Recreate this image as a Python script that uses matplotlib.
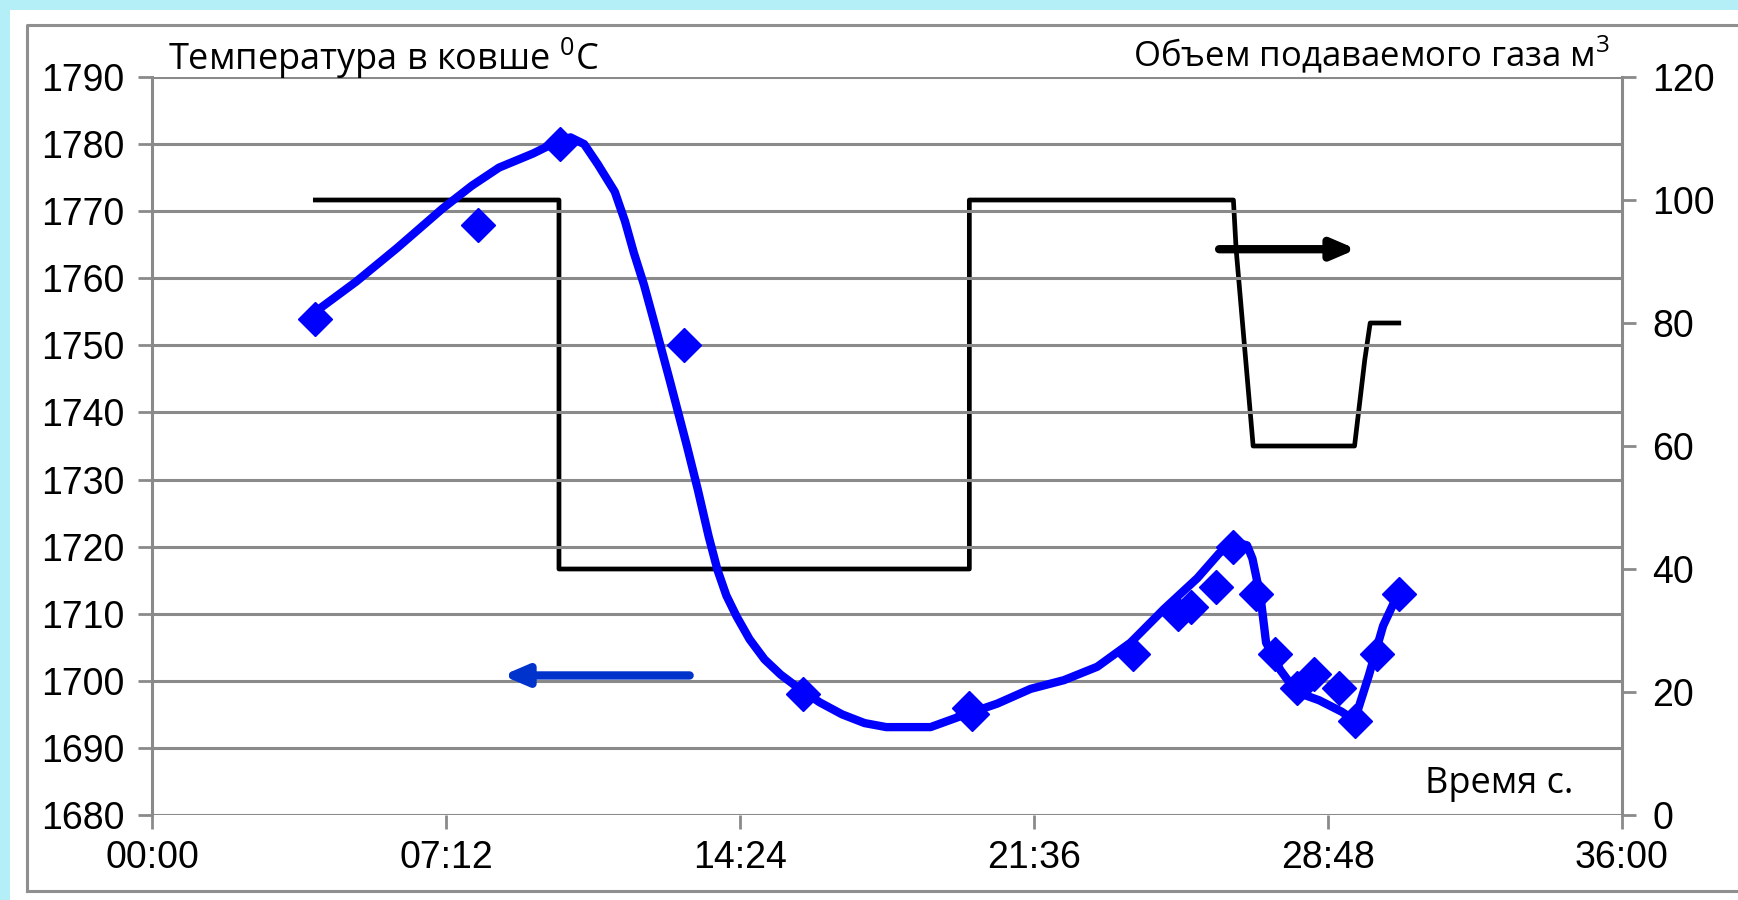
import matplotlib
matplotlib.use("Agg")
import matplotlib.pyplot as plt
from matplotlib.patches import Rectangle
from matplotlib.lines import Line2D

# --- data -------------------------------------------------------------
# ladle temperature, continuous record (time in s, temperature in °C)
curve_t = [240, 300, 360, 427, 470, 510, 560, 598, 615, 635, 655, 680, 695,
           708, 723, 737, 761, 786, 802, 818, 831, 844, 859, 878, 900, 924,
           949, 981, 1014, 1047, 1079, 1144, 1193, 1242, 1291, 1340, 1389,
           1438, 1487, 1536, 1568, 1589, 1609, 1617, 1629, 1637, 1658, 1682,
           1715, 1748, 1767, 1788, 1809, 1832]
curve_v = [1755, 1759.5, 1764.5, 1770.4, 1773.8, 1776.5, 1778.6, 1780.5, 1781,
           1780, 1777, 1772.9, 1768.5, 1763.8, 1759, 1753.8, 1744.7, 1735,
           1728.5, 1721.5, 1716.5, 1712.7, 1709.6, 1706.2, 1703.2, 1700.9,
           1699, 1696.8, 1695, 1693.7, 1693.1, 1693.1, 1694.9, 1696.6, 1698.8,
           1700.1, 1702.1, 1705.7, 1710.7, 1715.3, 1719, 1720.7, 1720.2,
           1718.2, 1712.4, 1705.7, 1701.6, 1698.3, 1697.1, 1695.4, 1694.1,
           1700.8, 1708.2, 1713.2]

# ladle temperature, individual measurements
meas_t = [240, 479, 600, 781, 957, 1201, 1205, 1441, 1508, 1527, 1563, 1589,
          1622, 1650, 1682, 1707, 1744, 1767, 1800, 1832]
meas_v = [1754, 1768, 1780, 1750, 1698, 1696, 1695, 1704, 1710, 1711, 1714,
          1720, 1713, 1704, 1699, 1701, 1699, 1694, 1704, 1713]

# supplied gas volume, m3
gas_t = [240, 598, 598, 1201, 1201, 1589, 1593, 1618, 1767, 1782, 1790, 1832]
gas_v = [100, 100, 40, 40, 100, 100, 92, 60, 60, 74, 80, 80]

x_ticks = [0, 432, 864, 1296, 1728, 2160]
x_labels = ["00:00", "07:12", "14:24", "21:36", "28:48", "36:00"]
left_ticks = list(range(1680, 1791, 10))
right_ticks = list(range(0, 121, 20))

plt.rcParams["mathtext.fontset"] = "custom"
plt.rcParams["mathtext.rm"] = "Open Sans"

# --- figure -----------------------------------------------------------
W, H, DPI = 1738, 900, 100
fig = plt.figure(figsize=(W / DPI, H / DPI), dpi=DPI)
fig.patch.set_facecolor("white")

# light cyan strips on top and left, grey frame around the chart
fig.patches.append(Rectangle((0, 1 - 10 / H), 1, 10 / H, transform=fig.transFigure,
                             facecolor="#b4eef7", edgecolor="none", zorder=0))
fig.patches.append(Rectangle((0, 0), 10 / W, 1, transform=fig.transFigure,
                             facecolor="#b4eef7", edgecolor="none", zorder=0))
fig.add_artist(Line2D([27 / W, 27 / W, 1.0], [1 - 891 / H, 1 - 25 / H, 1 - 25 / H],
                      transform=fig.transFigure, color="#8f8f8f", lw=2.2))
fig.add_artist(Line2D([27 / W, 1.0], [1 - 891 / H, 1 - 891 / H],
                      transform=fig.transFigure, color="#8f8f8f", lw=2.2))

x0, x1 = 152 / W, 1622 / W
y0, y1 = 1 - 815 / H, 1 - 77 / H
ax = fig.add_axes([x0, y0, x1 - x0, y1 - y0])
ax.set_facecolor("none")
ax2 = ax.twinx()

grid_c = "#8a8a8a"
tick_font = dict(family=["Liberation Sans", "DejaVu Sans"], size=27)
note_font = ["Open Sans", "DejaVu Sans"]

ax.set_xlim(0, 2160)
ax.set_ylim(1680, 1790)
ax2.set_ylim(0, 120)

for v in left_ticks:
    ax.axhline(v, color=grid_c, lw=2.2, zorder=1)

for a in (ax, ax2):
    for s in a.spines.values():
        s.set_visible(False)
ax.spines["left"].set_visible(True)
ax.spines["left"].set_color(grid_c)
ax.spines["left"].set_linewidth(2.2)
ax2.spines["right"].set_visible(True)
ax2.spines["right"].set_color(grid_c)
ax2.spines["right"].set_linewidth(2.2)

ax.set_xticks(x_ticks)
ax.set_xticklabels(x_labels, **tick_font)
ax.set_yticks(left_ticks)
ax.set_yticklabels([str(v) for v in left_ticks], **tick_font)
ax2.set_yticks(right_ticks)
ax2.set_yticklabels([str(v) for v in right_ticks], **tick_font)
ax.tick_params(axis="x", direction="out", length=10, width=2, color=grid_c, pad=8)
ax.tick_params(axis="y", direction="out", length=10, width=2, color=grid_c, pad=10)
ax2.tick_params(axis="y", direction="out", length=10, width=2, color=grid_c, pad=12)

# gas volume (right axis)
ax2.plot(gas_t, gas_v, color="black", lw=3.4, zorder=3)

# temperature (left axis)
ax.plot(curve_t, curve_v, color="#0000ff", lw=6, zorder=4,
        solid_capstyle="round", solid_joinstyle="round")
ax.plot(meas_t, meas_v, linestyle="none", marker="D", ms=17, color="#0000ff",
        zorder=5)
ax.set_zorder(ax2.get_zorder() + 1)

# arrows pointing to the corresponding axes
ax.annotate("", xy=(515, 1700.8), xytext=(790, 1700.8),
            arrowprops=dict(arrowstyle="-|>,head_length=1.4,head_width=0.6",
                            color="#0033cc", lw=6, shrinkA=0, shrinkB=0),
            zorder=6)
ax2.annotate("", xy=(1770, 92), xytext=(1568, 92),
             arrowprops=dict(arrowstyle="-|>,head_length=1.4,head_width=0.6",
                             color="black", lw=6, shrinkA=0, shrinkB=0),
             zorder=6)

# axis captions
fig.text(168 / W, 1 - 70 / H, r"Температура в ковше $^\mathregular{0}$C",
         family=note_font, size=26, ha="left", va="baseline")
fig.text(1610 / W, 1 - 66 / H, r"Объем подаваемого газа м$^\mathregular{3}$",
         family=note_font, size=25, ha="right", va="baseline")
fig.text(1573 / W, 1 - 793 / H, "Время с.", family=note_font, size=26,
         ha="right", va="baseline")

fig.savefig("out.png", dpi=DPI)
